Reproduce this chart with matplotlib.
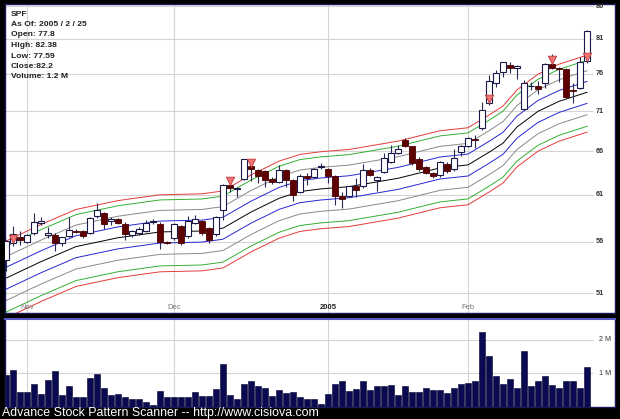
import numpy as np
import pandas as pd
import matplotlib
matplotlib.use('Agg')
import matplotlib.pyplot as plt
import matplotlib.transforms as mtransforms
from matplotlib.path import Path

plt.rcParams['font.family'] = ['Liberation Sans', 'DejaVu Sans']

# trading days on the chart (market holidays removed)
days = pd.bdate_range('2004-10-27', '2005-02-25')
days = days.drop(pd.to_datetime(['2004-11-25', '2004-12-24', '2005-01-17', '2005-02-21']))

opens = [54.18, 55.89, 56.47, 56.01, 56.94, 57.95, 56.7, 56.7, 55.86, 56.6,
         57.1, 57.05, 56.94, 58.7, 59.0, 58.2, 58.35, 57.82, 56.7, 56.9,
         57.1, 58.05, 57.85, 55.95, 56.37, 57.6, 56.6, 57.92, 58.16, 57.43,
         56.76, 59.27, 62.05, 61.6, 62.75, 64.2, 63.78, 63.62, 62.8, 62.47,
         63.73, 62.63, 61.35, 63.12, 63.0, 64.1, 63.9, 63.12, 60.87, 60.87,
         61.99, 61.92, 63.82, 62.67, 63.62, 64.79, 65.84, 67.31, 66.59, 65.11,
         64.13, 63.43, 63.18, 64.52, 63.88, 65.96, 66.67, 67.52, 68.83, 72.1,
         74.73, 76.26, 77.2, 76.8, 71.27, 74.3, 74.32, 74.73, 77.4, 76.74,
         76.66, 73.82, 74.05, 77.8]
highs = [56.2, 57.57, 57.05, 56.8, 58.99, 58.6, 57.55, 56.85, 56.5, 58.62,
         57.3, 57.2, 58.6, 60.07, 59.1, 58.6, 58.5, 58.0, 57.2, 57.5,
         58.3, 58.35, 58.0, 56.05, 57.95, 57.75, 58.7, 58.77, 58.3, 57.55,
         58.7, 62.2, 62.3, 61.9, 65.15, 64.9, 63.9, 63.8, 63.05, 64.35,
         63.9, 62.8, 63.3, 63.45, 64.0, 64.66, 64.0, 63.2, 61.35, 62.0,
         62.87, 64.5, 64.0, 63.1, 65.77, 66.77, 66.77, 67.6, 66.7, 65.3,
         64.3, 63.6, 64.9, 64.7, 66.27, 66.8, 67.7, 68.0, 72.23, 75.85,
         76.56, 77.7, 77.7, 77.2, 75.18, 74.9, 75.04, 77.5, 78.75, 77.0,
         76.85, 74.73, 78.4, 82.38]
lows = [53.05, 55.51, 55.68, 55.9, 56.7, 57.75, 56.35, 55.01, 55.51, 56.5,
        56.9, 56.37, 56.8, 58.45, 57.3, 57.7, 57.8, 56.19, 56.5, 56.7,
        57.0, 57.85, 55.28, 55.75, 56.2, 55.7, 56.4, 57.8, 56.7, 55.86,
        56.6, 58.3, 61.35, 60.8, 62.6, 62.5, 62.3, 61.9, 62.2, 62.3,
        61.9, 60.32, 61.2, 62.1, 62.9, 63.9, 62.3, 59.88, 59.52, 60.7,
        60.8, 61.8, 63.1, 61.46, 63.5, 64.6, 65.7, 66.5, 64.4, 63.7,
        63.3, 62.87, 63.0, 63.5, 63.7, 65.4, 66.5, 66.4, 68.6, 71.8,
        74.15, 75.6, 76.1, 75.27, 71.18, 73.82, 73.29, 74.05, 76.7, 74.95,
        72.8, 72.1, 73.9, 77.59]
closes = [56.09, 56.81, 56.19, 56.7, 57.99, 58.1, 56.85, 55.86, 56.43, 57.22,
          57.0, 56.6, 58.45, 59.27, 57.82, 58.3, 57.9, 56.78, 57.05, 57.3,
          57.95, 58.1, 56.01, 55.9, 57.8, 55.89, 58.09, 58.35, 56.87, 56.16,
          58.56, 62.05, 61.73, 61.7, 65.07, 63.88, 63.12, 62.6, 62.4, 63.73,
          62.6, 60.98, 63.12, 62.84, 63.9, 64.2, 63.12, 60.84, 60.5, 61.92,
          61.54, 63.73, 63.24, 62.98, 65.19, 65.84, 66.27, 66.67, 64.6, 63.9,
          63.5, 63.12, 64.69, 63.74, 65.19, 66.61, 67.6, 67.42, 71.18, 74.95,
          76.05, 77.58, 76.8, 77.09, 74.73, 74.35, 73.96, 77.36, 76.85, 76.65,
          72.93, 73.71, 77.72, 82.2]
volume_m = [0.94, 1.09, 0.44, 0.44, 0.67, 0.39, 0.79, 1.07, 0.36, 0.62,
            0.31, 0.31, 0.86, 0.97, 0.57, 0.37, 0.39, 0.29, 0.24, 0.24,
            0.16, 0.07, 0.46, 0.31, 0.31, 0.29, 0.29, 0.44, 0.34, 0.34,
            0.54, 1.27, 0.37, 0.24, 0.67, 0.77, 0.62, 0.57, 0.34, 0.49,
            0.41, 0.44, 0.31, 0.24, 0.24, 0.10, 0.39, 0.67, 0.76, 0.46,
            0.54, 0.77, 0.49, 0.61, 0.61, 0.64, 0.37, 0.61, 0.44, 0.44,
            0.57, 0.51, 0.51, 0.41, 0.57, 0.67, 0.72, 0.77, 2.21, 1.51,
            0.91, 0.67, 0.82, 0.57, 1.67, 0.62, 0.77, 0.91, 0.64, 0.57,
            0.77, 0.77, 0.57, 1.2]

# middle average line, envelopes in percent around it
mid_idx = [0, 5, 10, 16, 22, 28, 31, 35, 39, 42, 45, 49, 56, 62, 66, 69, 71, 73, 76, 79, 83]
mid_val = [52.4, 54.0, 55.5, 56.4, 57.0, 57.1, 57.4, 59.1, 60.6, 61.35, 61.65, 61.9,
           62.85, 64.05, 64.4, 65.9, 67.0, 69.0, 71.0, 72.3, 73.5]
band_pct = [7, 6, 4, 2, 0, -2, -4, -6, -7]
band_colors = ['#e33b3b', '#33b033', '#8a8a8a', '#2626d2', '#000000',
               '#2626d2', '#8a8a8a', '#33b033', '#e33b3b']

signal_idx = [1, 32, 35, 69, 78, 83]
price_ticks = [51, 56, 61, 66, 71, 76, 81, 86]
vol_ticks = [1, 2]

info_lines = ['SPF', 'As Of: 2005 / 2 / 25', 'Open: 77.8', 'High: 82.38',
              'Low: 77.59', 'Close:82.2', 'Volume: 1.2 M']

x = np.arange(len(days))
month_pos = [i for i in range(1, len(days)) if days[i].month != days[i - 1].month]
month_lab = [d.strftime('%b') if d.month != 1 else str(d.year) for d in days[month_pos]]

W, H = 620, 419
fig = plt.figure(figsize=(W / 100, H / 100), dpi=100, facecolor='#000000')


def box(x0, y0, x1, y1):
    return [x0 / W, 1 - y1 / H, (x1 - x0) / W, (y1 - y0) / H]


ax = fig.add_axes(box(4.5, 4, 615, 313))
axv = fig.add_axes(box(4.5, 319, 615, 407))

px = lambda p: (p - 6) / 7.0   # pixel column -> bar index
xlim = (px(4.5), px(615))

for a in (ax, axv):
    a.set_facecolor('white')
    a.set_xlim(*xlim)
    a.set_xticks([])
    a.set_yticks([])
    for s in a.spines.values():
        s.set_color('#1a1a5a')
        s.set_linewidth(1.0)
    for m in month_pos:
        a.axvline(m, color='#d4d4d4', lw=0.8, zorder=0)
axv.spines['top'].set_color('#5858c8')
axv.spines['top'].set_linewidth(1.5)

# price panel
ax.set_yscale('log')
ax.set_ylim(49.18, 86.32)
ax.yaxis.set_minor_locator(matplotlib.ticker.NullLocator())
ax.hlines(price_ticks, xlim[0], px(593), color='#d4d4d4', lw=0.8, zorder=0)
for t in price_ticks:
    ax.text(px(596), t, str(t), fontsize=5.2, color='#333333', fontweight='bold',
            va='center', ha='left', clip_on=True)

mid = np.array(mid_val)
for pct, col in zip(band_pct, band_colors):
    ax.plot(mid_idx, mid * (1 + pct / 100.0), color=col, lw=0.7, zorder=1)

o = np.array(opens)
c = np.array(closes)
up = c >= o
ax.vlines(x, lows, highs, color='#2a2a55', lw=0.8, zorder=2)
ax.bar(x[up], c[up] - o[up] + 0.02, bottom=o[up], width=0.72,
       color='white', edgecolor='#1a1a4a', lw=0.8, zorder=3)
ax.bar(x[~up], o[~up] - c[~up] + 0.02, bottom=c[~up], width=0.72,
       color='#5e0000', edgecolor='#4a0000', lw=0.6, zorder=3)

tri = Path([(-1, 2), (1, 2), (0, 0), (-1, 2)],
           [Path.MOVETO, Path.LINETO, Path.LINETO, Path.CLOSEPOLY])
ax.plot(signal_idx, o[signal_idx], ls='none', marker=tri, markersize=12,
        markerfacecolor='#f07272', markeredgecolor='#c03c3c', mew=0.6, zorder=4)

tr = mtransforms.blended_transform_factory(ax.transData, ax.transAxes)
for m, lab in zip(month_pos, month_lab):
    bold = lab.isdigit()
    ax.text(m, 0.017, lab, transform=tr, ha='center', va='center', fontsize=5.5,
            color='#222222' if bold else '#777777', fontweight='bold' if bold else 'normal')

# volume panel
axv.set_ylim(0, 2.61)
axv.hlines(vol_ticks, xlim[0], px(593), color='#d4d4d4', lw=0.8, zorder=0)
for t in vol_ticks:
    axv.text(px(599), t, '%d M' % t, fontsize=5.2, color='#333333',
             va='center', ha='left')
axv.bar(x, volume_m, width=0.8, color='#0a0a50', edgecolor='#000030', lw=0.4, zorder=2)

for k, line in enumerate(info_lines):
    fig.text(10.5 / W, 1 - (14 + 10.5 * k) / H, line, fontsize=6.1, fontweight='bold',
             color='#222222', va='center', ha='left')

fig.text(2 / W, 1 - 412.5 / H, 'Advance Stock Pattern Scanner -- http://www.cisiova.com',
         fontsize=8.9, color='white', va='center', ha='left')

fig.savefig('out.png', dpi=100, facecolor=fig.get_facecolor())
